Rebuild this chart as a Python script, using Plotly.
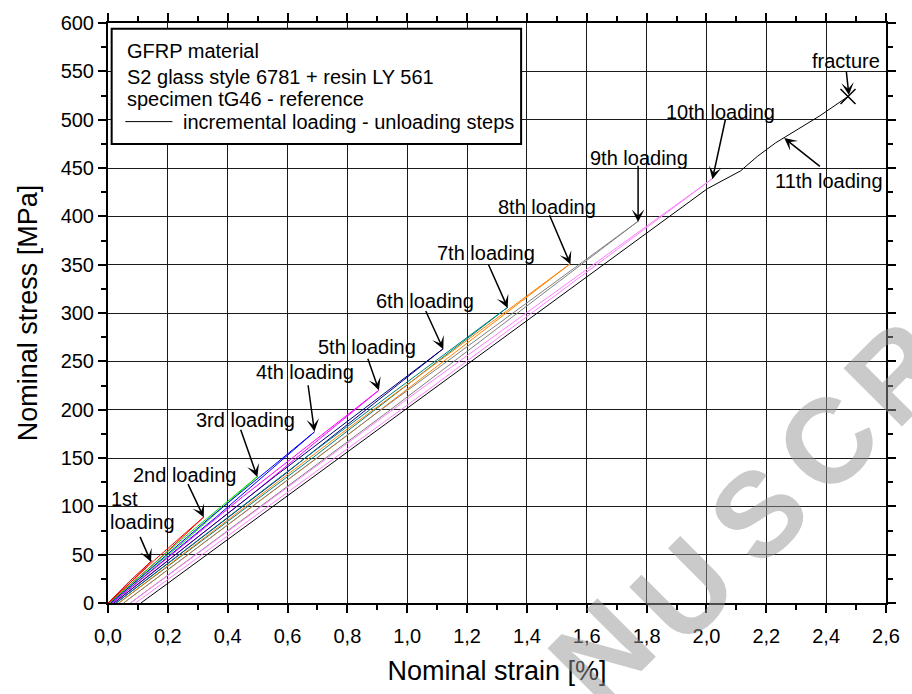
import plotly.graph_objects as go

# ---------------- data ----------------
x_tick_vals = [0.0, 0.2, 0.4, 0.6, 0.8, 1.0, 1.2, 1.4, 1.6, 1.8, 2.0, 2.2, 2.4, 2.6]
x_tick_text = ["0,0", "0,2", "0,4", "0,6", "0,8", "1,0", "1,2", "1,4", "1,6", "1,8", "2,0", "2,2", "2,4", "2,6"]
y_tick_vals = [0, 50, 100, 150, 200, 250, 300, 350, 400, 450, 500, 550, 600]

# loading - unloading cycles: strain [%] / stress [MPa]
c1_strain = [0.000, 0.0705, 0.147, 0.0775, 0.002]
c1_stress = [0, 22, 44, 22, 0]
c2_strain = [0.002, 0.156, 0.320, 0.1675, 0.005]
c2_stress = [0, 44.5, 89, 44.5, 0]
c3_strain = [0.005, 0.2455, 0.500, 0.2615, 0.009]
c3_stress = [0, 65.5, 131, 65.5, 0]
c4_strain = [0.009, 0.3415, 0.690, 0.360, 0.014]
c4_stress = [0, 88.5, 177, 88.5, 0]
c5_strain = [0.014, 0.4505, 0.905, 0.4715, 0.020]
c5_stress = [0, 110, 220, 110, 0]
c6_strain = [0.020, 0.560, 1.120, 0.5835, 0.027]
c6_stress = [0, 131.5, 263, 131.5, 0]
c7_strain = [0.027, 0.6715, 1.336, 0.696, 0.036]
c7_stress = [0, 153, 306, 153, 0]
c8_strain = [0.036, 0.7805, 1.545, 0.8085, 0.052]
c8_stress = [0, 175.5, 351, 175.5, 0]
c9_strain = [0.052, 0.902, 1.772, 0.9335, 0.075]
c9_stress = [0, 197.5, 395, 197.5, 0]
c10_strain = [0.075, 1.0375, 2.020, 1.066, 0.092]
c10_stress = [0, 219.5, 439, 219.5, 0]
c11_strain = [0.110, 0.795, 1.572, 2.003, 2.114, 2.170, 2.231, 2.379, 2.473]
c11_stress = [0, 155, 331, 428.6, 447, 462, 476, 504, 524]

cycle_colors = ["#e00000", "#ff0000", "#00e000", "#0000ff", "#ff00ff",
                "#000080", "#008080", "#ff8000", "#808080", "#ff80ff", "#000000"]

fracture_strain = [2.473]
fracture_stress = [524]

label_text = ["1st", "loading", "2nd loading", "3rd loading", "4th loading", "5th loading",
              "6th loading", "7th loading", "8th loading", "9th loading", "10th loading",
              "11th loading", "fracture"]
label_x = [0.0553, 0.1159, 0.2556, 0.461, 0.6596, 0.8666, 1.058, 1.264, 1.466, 1.7755, 2.0477, 2.408, 2.4659]
label_y = [107.5, 83.5, 132, 189.3, 238.8, 264.4, 312.8, 361.6, 409.4, 460.6, 508.3, 436.6, 560.2]

arrow_tail_x = [0.105, 0.265, 0.4417, 0.668, 0.8666, 1.0596, 1.2695, 1.4735, 1.7715, 2.0642, 2.384, 2.467]
arrow_tail_y = [70, 124.5, 180.8, 226.8, 254.1, 303.6, 351.4, 402.6, 454.0, 501.5, 450.4, 551]
arrow_tip_x = [0.1437, 0.320, 0.499, 0.690, 0.9053, 1.1205, 1.3358, 1.5454, 1.7715, 2.0199, 2.26, 2.476]
arrow_tip_y = [42.6, 88.6, 130.3, 177.4, 220.1, 262.6, 305.3, 350.4, 394.1, 438.4, 481, 525.4]

legend_lines = ["GFRP material", "S2 glass style 6781 + resin LY 561", "specimen tG46 - reference"]
legend_series = "incremental loading - unloading steps"

wm_letters = ["N", "U", "S", "C", "R"]
wm_x = [0.634, 0.7397, 0.836, 0.9254, 1.0145]
wm_y = [-0.085, 0.0224, 0.1557, 0.2785, 0.3979]

# ---------------- figure ----------------
FONT = "Liberation Sans, Arial, sans-serif"
fig = go.Figure()

cycles = [(c1_strain, c1_stress), (c2_strain, c2_stress), (c3_strain, c3_stress),
          (c4_strain, c4_stress), (c5_strain, c5_stress), (c6_strain, c6_stress),
          (c7_strain, c7_stress), (c8_strain, c8_stress), (c9_strain, c9_stress),
          (c10_strain, c10_stress), (c11_strain, c11_stress)]
for (xs, ys), col in zip(cycles, cycle_colors):
    fig.add_trace(go.Scatter(x=xs, y=ys, mode="lines", line=dict(color=col, width=1),
                             showlegend=False, hoverinfo="skip"))

fig.add_trace(go.Scatter(x=fracture_strain, y=fracture_stress, mode="markers",
                         marker=dict(symbol="x-thin-open", size=15, color="black",
                                     line=dict(color="black", width=1.5)),
                         showlegend=False, hoverinfo="skip"))

annotations = []
# watermark letters (light grey, rotated)
for t, xx, yy in zip(wm_letters, wm_x, wm_y):
    annotations.append(dict(text="<b>" + t + "</b>", x=xx, y=yy, xref="paper", yref="paper",
                            xanchor="center", yanchor="middle",
                            showarrow=False, textangle=-45,
                            font=dict(family=FONT, size=120, color="rgba(150,150,150,0.5)")))

for t, xx, yy in zip(label_text, label_x, label_y):
    annotations.append(dict(text=t, x=xx, y=yy, xref="x", yref="y", showarrow=False,
                            xanchor="center", yanchor="middle",
                            font=dict(family=FONT, size=20, color="black")))

for tx, ty, hx, hy in zip(arrow_tail_x, arrow_tail_y, arrow_tip_x, arrow_tip_y):
    annotations.append(dict(text="", x=hx, y=hy, ax=tx, ay=ty, xref="x", yref="y",
                            axref="x", ayref="y", showarrow=True, arrowhead=3,
                            arrowsize=1.4, arrowwidth=1.5, arrowcolor="black", standoff=0))

# legend box texts
leg_y = [0.9522, 0.9067, 0.8682]
for t, yy in zip(legend_lines, leg_y):
    annotations.append(dict(text=t, x=0.0222, y=yy, xref="paper", yref="paper",
                            xanchor="left", yanchor="middle", showarrow=False,
                            font=dict(family=FONT, size=20, color="black")))
annotations.append(dict(text=legend_series, x=0.0942, y=0.830, xref="paper", yref="paper",
                        xanchor="left", yanchor="middle", showarrow=False,
                        font=dict(family=FONT, size=20, color="black")))

shapes = [
    dict(type="rect", xref="paper", yref="paper", x0=0.0047, x1=0.531, y0=0.7914, y1=0.9903,
         line=dict(color="black", width=2), fillcolor="white", layer="above"),
    dict(type="line", xref="paper", yref="paper", x0=0.0222, x1=0.0828, y0=0.830, y1=0.830,
         line=dict(color="black", width=1), layer="above"),
]

axis_common = dict(
    showline=True, linewidth=2, linecolor="black", mirror="allticks",
    ticks="outside", ticklen=8, tickwidth=2, tickcolor="black",
    showgrid=True, gridcolor="#1a1a1a", gridwidth=1, zeroline=False,
    tickfont=dict(family=FONT, size=20, color="black"),
)

fig.update_layout(
    width=912, height=694, autosize=False,
    margin=dict(l=108, r=19, t=17, b=91),
    paper_bgcolor="white", plot_bgcolor="white",
    font=dict(family=FONT, color="black"),
    showlegend=False,
    annotations=annotations,
    shapes=shapes,
    xaxis=dict(range=[0, 2.6], tickvals=x_tick_vals, ticktext=x_tick_text,
               minor=dict(dtick=0.1, tick0=0, ticklen=5, tickwidth=2, tickcolor="black",
                          ticks="outside", showgrid=False),
               title=dict(text="Nominal strain [%]", font=dict(family=FONT, size=27), standoff=15),
               ticklabelstandoff=6,
               **axis_common),
    yaxis=dict(range=[0, 600], tickvals=y_tick_vals,
               minor=dict(dtick=25, tick0=0, ticklen=5, tickwidth=2, tickcolor="black",
                          ticks="outside", showgrid=False),
               title=dict(text="Nominal stress [MPa]", font=dict(family=FONT, size=27), standoff=15),
               **axis_common),
)

fig.write_html("out.html", config={"displayModeBar": False},
               post_script="document.body.style.margin='0';")
